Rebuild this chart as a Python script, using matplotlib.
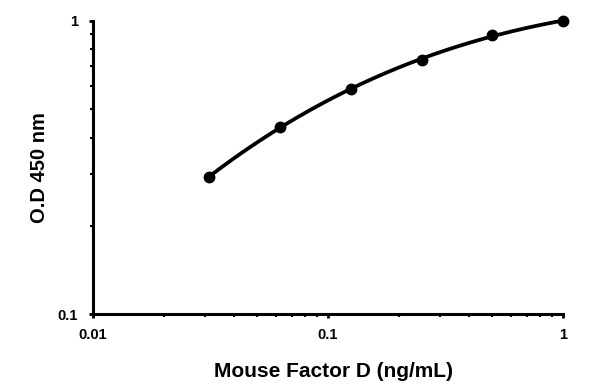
import numpy as np
import matplotlib
matplotlib.use("Agg")
import matplotlib.pyplot as plt
from matplotlib.ticker import FixedLocator, FixedFormatter, LogLocator, NullFormatter

conc = [0.03125, 0.0625, 0.125, 0.25, 0.5, 1.0]
od = [0.294, 0.435, 0.586, 0.736, 0.896, 1.0]
x_ticks = [0.01, 0.1, 1]
x_tick_labels = ["0.01", "0.1", "1"]
y_ticks = [0.1, 1]
y_tick_labels = ["0.1", "1"]

plt.rcParams['font.family'] = ['Liberation Sans', 'DejaVu Sans']

fig = plt.figure(figsize=(5.97, 3.89), dpi=100)
ax = fig.add_axes([93/597, 75/389, (563-93)/597, (314-21)/389])

# smooth fitted curve in log-log space
lx = np.log10(conc)
ly = np.log10(od)
coef = np.polyfit(lx, ly, 3)
xs = np.linspace(lx[0], lx[-1], 200)
ax.plot(10**xs, 10**np.polyval(coef, xs), color='black', lw=2.7,
        solid_capstyle='round', clip_on=False)
ax.plot(conc, od, 'o', color='black', ms=7.5, clip_on=False, zorder=5)

ax.set_xscale('log')
ax.set_yscale('log')
ax.set_xlim(0.01, 1)
ax.set_ylim(0.1, 1)
ax.xaxis.set_major_locator(FixedLocator(x_ticks))
ax.xaxis.set_major_formatter(FixedFormatter(x_tick_labels))
ax.yaxis.set_major_locator(FixedLocator(y_ticks))
ax.yaxis.set_major_formatter(FixedFormatter(y_tick_labels))
ax.xaxis.set_minor_locator(LogLocator(base=10, subs=np.arange(2, 10)))
ax.yaxis.set_minor_locator(LogLocator(base=10, subs=np.arange(2, 10)))
ax.xaxis.set_minor_formatter(NullFormatter())
ax.yaxis.set_minor_formatter(NullFormatter())

for s in ['top', 'right']:
    ax.spines[s].set_visible(False)
for s in ['left', 'bottom']:
    ax.spines[s].set_linewidth(2.2)

ax.tick_params(which='major', direction='out', length=3, width=2, labelsize=10.5)
ax.tick_params(axis='x', which='major', pad=7)
ax.tick_params(axis='y', which='major', pad=8)
ax.tick_params(which='minor', direction='out', length=2, width=1.5)
for lab in ax.get_xticklabels() + ax.get_yticklabels():
    lab.set_fontweight('bold')

ax.set_xlabel('Mouse Factor D (ng/mL)', fontsize=15, fontweight='bold')
ax.xaxis.set_label_coords((334 - 93) / 470, -0.165)
ax.set_ylabel('O.D 450 nm', fontsize=14.5, fontweight='bold', labelpad=6)

fig.savefig('out.png', dpi=100)
